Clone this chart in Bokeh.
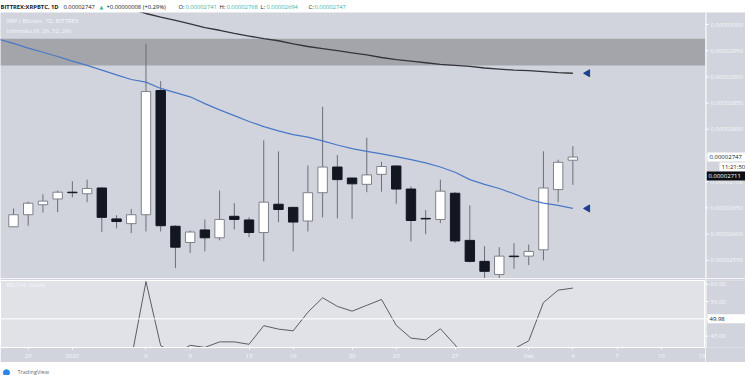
import math
from bokeh.plotting import figure
from bokeh.layouts import column, row
from bokeh.models import ColumnDataSource, Label, Span, FixedTicker, BoxAnnotation, Range1d
from bokeh.core.properties import value
from bokeh.embed import file_html
from bokeh.resources import INLINE

# ---------------- data (prices in units of 1e-8 BTC) ----------------
# day index 0 = 28 Dec 2019 ... 38 = 4 Feb 2020
days = list(range(39))
opens = [2614, 2637, 2656, 2667, 2680, 2677, 2688, 2629, 2620, 2637,
         2874, 2615, 2584, 2608, 2593, 2634, 2627, 2603, 2657, 2651,
         2625, 2679, 2728, 2707, 2695, 2714, 2730, 2686, 2630, 2628,
         2678, 2588, 2548, 2523, 2558, 2558, 2570, 2685, 2741]
highs = [2649, 2662, 2676, 2683, 2701, 2704, 2689, 2636, 2648, 2963,
         2892, 2617, 2607, 2628, 2683, 2659, 2632, 2779, 2758, 2652,
         2731, 2843, 2751, 2708, 2784, 2738, 2731, 2691, 2646, 2704,
         2680, 2655, 2577, 2575, 2583, 2580, 2758, 2742, 2768]
lows = [2614, 2616, 2641, 2642, 2670, 2661, 2604, 2611, 2602, 2605,
        2605, 2535, 2564, 2567, 2588, 2609, 2594, 2548, 2623, 2567,
        2605, 2632, 2630, 2629, 2680, 2681, 2658, 2586, 2600, 2621,
        2583, 2546, 2515, 2515, 2534, 2541, 2550, 2661, 2694]
closes = [2637, 2659, 2663, 2680, 2679, 2687, 2632, 2624, 2637, 2872,
          2616, 2575, 2604, 2593, 2628, 2628, 2603, 2661, 2647, 2623,
          2679, 2728, 2704, 2696, 2713, 2729, 2686, 2626, 2629, 2682,
          2587, 2548, 2529, 2558, 2557, 2567, 2688, 2737, 2747]

blue_days = list(range(-1, 39))
ma_blue = [2972, 2964, 2955, 2947, 2939, 2930, 2922, 2913, 2904, 2895,
           2890, 2878, 2870, 2862, 2849, 2837, 2826, 2815, 2805, 2797,
           2790, 2785, 2778, 2770, 2763, 2758, 2753, 2748, 2742, 2736,
           2728, 2718, 2704, 2695, 2687, 2677, 2666, 2659, 2655, 2649]

black_days = list(range(5, 39))
ma_black = [3046, 3040, 3034, 3029, 3021, 3014, 3008, 3001, 2994, 2989,
            2983, 2978, 2973, 2969, 2963, 2958, 2954, 2950, 2946, 2942,
            2937, 2933, 2930, 2927, 2924, 2922, 2920, 2917, 2915, 2913,
            2912, 2910, 2908, 2907]

rsi = [38.0, 39.5, 39.8, 40.5, 40.6, 40.9, 38.2, 37.8, 38.3, 60.8,
       42.2, 39.9, 42.3, 41.7, 43.3, 43.3, 42.6, 48.0, 47.0, 46.5,
       51.9, 56.1, 53.6, 52.2, 53.9, 55.6, 48.1, 44.4, 43.9, 47.1,
       42.4, 37.0, 36.0, 41.3, 41.3, 43.6, 54.7, 58.3, 58.9]

cloud_top = 2973
cloud_bottom = 2922

last_price = 2747
countdown_price = 2728
second_price = 2711
countdown = "11:21:50"
rsi_line_value = 49.98

price_ticks = [2550, 2600, 2650, 2700, 2750, 2800, 2850, 2900, 2950, 3000]
rsi_ticks = [45, 50, 55, 60]
time_ticks = [1, 4, 9, 12, 16, 19, 23, 26, 30, 35, 38, 41, 44, 47]
time_labels = ["29", "2020", "6", "9", "13", "16", "20", "23", "27", "Feb", "4", "7", "10", "13"]

header_parts = [
    ("BITTREX:XRPBTC, 1D", "dark", True),
    ("0.00002747", "dark", False),
    ("\u25B2", "up", False),
    ("+0.00000008 (+0.29%)", "dark", False),
    ("O:", "dark", False), ("0.00002741", "up", False),
    ("H:", "dark", False), ("0.00002768", "up", False),
    ("L:", "dark", False), ("0.00002694", "up", False),
    ("C:", "dark", False), ("0.00002747", "up", False),
]
header_x = [0, 63, 99, 106, 178, 185, 219, 226, 260, 266, 308, 314]

# ---------------- styles ----------------
PANE = "#d1d4dc"
RSI_PANE = "#e0e2e8"
LIGHT_TXT = "#f6f7fa"
DARK = "#131722"
UP = "#3bb3a3"
FONT = "Open Sans"
FRAME_W = 705
AXW = 40
W = FRAME_W + AXW
FS = "6px"

xr = Range1d(-0.883, 47.01)
yr_main = Range1d(2515.3, 3022.9)
yr_rsi = Range1d(41.67, 61.1)


def bare(width, height, xrange, yrange, bg, border="white", **kw):
    f = figure(width=width, height=height, x_range=xrange, y_range=yrange,
               toolbar_location=None, output_backend="svg",
               x_axis_location=None, y_axis_location=None, outline_line_color=None,
               background_fill_color=bg, border_fill_color=border, **kw)
    f.grid.visible = False
    return f


# ---------------- header ----------------
head = bare(W, 12, Range1d(0, W), Range1d(0, 12), "white", min_border=0)
for (txt, col, bold), hx in zip(header_parts, header_x):
    head.add_layout(Label(x=hx, y=6, text=txt, text_baseline="middle",
                          text_font="DejaVu Sans" if txt == "\u25B2" else FONT,
                          text_font_size="5px" if txt == "\u25B2" else "5.8px",
                          text_font_style="bold" if bold else "normal",
                          text_color=DARK if col == "dark" else UP))

# ---------------- main price pane ----------------
main = bare(FRAME_W, 266, xr, yr_main, PANE, border=PANE, min_border=0)

main.add_layout(BoxAnnotation(bottom=cloud_bottom, top=cloud_top, fill_color="#a4a5aa",
                              fill_alpha=1.0, line_color=None, level="underlay"))

up = [c >= o for o, c in zip(opens, closes)]
src = ColumnDataSource(dict(
    day=days, high=highs, low=lows,
    top=[max(o, c) for o, c in zip(opens, closes)],
    bottom=[min(o, c) for o, c in zip(opens, closes)],
    fill=["#ffffff" if u else DARK for u in up],
    line=["#7d8088" if u else DARK for u in up],
))
main.segment(x0="day", y0="low", x1="day", y1="high", source=src, color="#6c6f77", line_width=1)
main.vbar(x="day", width=0.64, top="top", bottom="bottom", fill_color="fill",
          line_color="line", line_width=1, source=src)

main.line(black_days, ma_black, color="#34353b", line_width=1.3)
main.line(blue_days, ma_blue, color="#4a78c6", line_width=1.2)
main.scatter(x=[black_days[-1] + 1], y=[ma_black[-1]], marker="triangle", angle=math.pi / 2,
             size=7, color="#1f3f8e")
main.scatter(x=[blue_days[-1] + 1], y=[ma_blue[-1]], marker="triangle", angle=math.pi / 2,
             size=7, color="#1f3f8e")

main.add_layout(Label(x=6, y=257.5, x_units="screen", y_units="screen",
                      text="XRP / Bitcoin, 1D, BITTREX", text_baseline="middle",
                      text_font=FONT, text_font_size=FS, text_color=LIGHT_TXT))
main.add_layout(Label(x=6, y=247.5, x_units="screen", y_units="screen",
                      text="Ichimoku (9, 26, 52, 26)", text_baseline="middle",
                      text_font=FONT, text_font_size=FS, text_color=LIGHT_TXT))


# ---------------- price scale column ----------------
def scale_column(height, yrange, ticks, labels, boxes, **kw):
    ax = bare(AXW, height, Range1d(0, AXW), yrange, PANE, border=PANE, **kw)
    ax.add_layout(Span(location=0.5, dimension="height", line_color="white", line_width=1))
    ax.segment(x0=[0] * len(ticks), x1=[3] * len(ticks), y0=ticks, y1=ticks,
               color="white", line_width=1)
    ax.text(x=[5] * len(ticks), y=ticks, text=labels, text_baseline="middle",
            text_font=value(FONT), text_font_size=value(FS), text_color=LIGHT_TXT)
    for (yv, txt, bg, fg, x0) in boxes:
        ax.rect(x=[(x0 + AXW) / 2], y=[yv], width=AXW - x0, height=9,
                height_units="screen", fill_color=bg, line_color=None)
        ax.text(x=[x0 + 2], y=[yv], text=[txt], text_baseline="middle",
                text_font=value(FONT), text_font_size=value(FS), text_color=fg)
    return ax


main_ax = scale_column(
    266, yr_main, price_ticks, [f"{t * 1e-8:.8f}" for t in price_ticks],
    [(last_price, f"{last_price * 1e-8:.8f}", "white", DARK, 2),
     (countdown_price, countdown, "white", DARK, 14),
     (second_price, f"{second_price * 1e-8:.8f}", "#0c0e14", "white", 1)],
    min_border=0)

# ---------------- RSI pane ----------------
rp = figure(width=FRAME_W, height=84, x_range=xr, y_range=yr_rsi,
            y_axis_location=None, toolbar_location=None, output_backend="svg",
            min_border_left=0, min_border_right=0, min_border_top=2, min_border_bottom=12,
            background_fill_color=RSI_PANE, border_fill_color=PANE,
            outline_line_color="white")
rp.grid.visible = False
rp.add_layout(Span(location=rsi_line_value, dimension="width", line_color="white", line_width=1))
rp.line(days, rsi, color="#5b5d64", line_width=1)
rp.add_layout(Label(x=6, y=62.5, x_units="screen", y_units="screen",
                    text="RSI (14, close)", text_baseline="middle",
                    text_font=FONT, text_font_size=FS, text_color=LIGHT_TXT))

rx = rp.xaxis[0]
rx.ticker = FixedTicker(ticks=time_ticks)
rx.major_label_overrides = dict(zip(time_ticks, time_labels))
rx.major_label_text_font = FONT
rx.major_label_text_font_size = FS
rx.major_label_text_color = LIGHT_TXT
rx.axis_line_color = "white"
rx.major_tick_line_color = "white"
rx.major_tick_out = 2
rx.major_tick_in = 0
rx.minor_tick_line_color = None
rx.major_label_standoff = 2

rsi_ax = scale_column(
    84, yr_rsi, rsi_ticks, [f"{t:.2f}" for t in rsi_ticks],
    [(rsi_line_value, f"{rsi_line_value:.2f}", "white", DARK, 2)],
    min_border_left=0, min_border_right=0, min_border_top=2, min_border_bottom=12)

# ---------------- footer ----------------
foot = bare(W, 13, Range1d(0, W), Range1d(0, 13), "white", min_border=0)
foot.add_layout(Label(x=2, y=4, text="\u25CF", text_baseline="middle",
                      text_font="DejaVu Sans", text_font_size="9px", text_color="#2a86e8"))
foot.add_layout(Label(x=17, y=4, text="TradingView", text_baseline="middle",
                      text_font=FONT, text_font_size="5.5px", text_color="#6a6d78"))

layout = column(head, row(main, main_ax), row(rp, rsi_ax), foot)
open("out.html", "w").write(file_html(layout, INLINE))
